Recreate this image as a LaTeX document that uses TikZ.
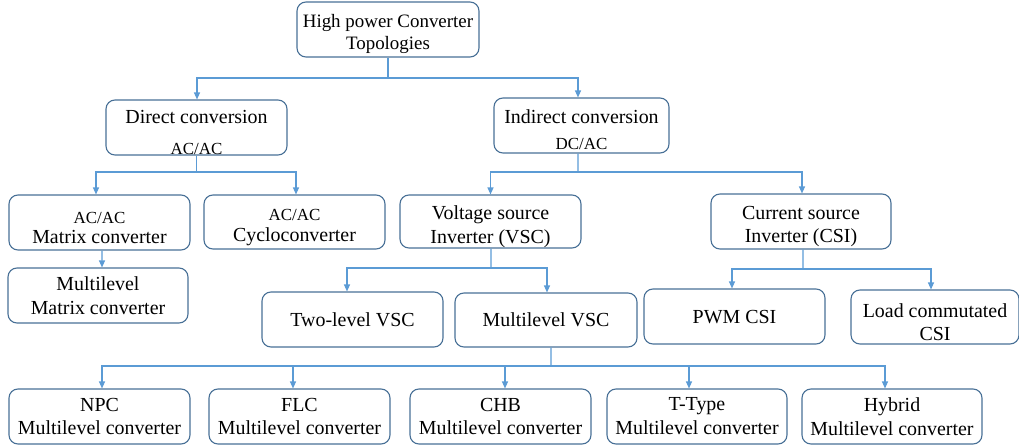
\documentclass[tikz,border=0pt]{standalone}
\usepackage{fontspec}
\setmainfont{Liberation Serif}
\newfontfamily\tnr{Liberation Serif}
\usetikzlibrary{arrows.meta}
\definecolor{boxc}{RGB}{72,112,150}
\definecolor{linec}{RGB}{91,155,213}
\tikzset{
  box/.style={draw=boxc, line width=1.1bp, rounded corners=9bp, inner sep=0pt},
  txt/.style={align=center, inner sep=0pt, text=black, font=\tnr\fontsize{20}{24}\selectfont},
  conn/.style={draw=linec, line width=1.2bp},
  arr/.style={conn, -{Triangle[width=6bp,length=7bp]}},
}
\newcommand{\smalltxt}[1]{{\tnr\fontsize{17}{20}\selectfont #1}}
% name, center, width, height, text shift down, text
\newcommand{\bx}[6]{%
  \node[box, minimum width=#3bp, minimum height=#4bp] (#1) at (#2) {};
  \node[txt] (#1-t) at ([yshift=-#5bp]#1.center) {#6};}
\begin{document}
\begin{tikzpicture}[x=1bp,y=-1bp]
\useasboundingbox (0,0) rectangle (1019,445);
% level 0
\node[box, minimum width=182bp, minimum height=55bp] (root) at (388,29.5) {};
\node[txt, font=\tnr\fontsize{19}{22}\selectfont] (root-t) at ([yshift=-4.5bp]root.center) {High power Converter\\Topologies};
% level 1
\bx{direct}{196.5,127.5}{181}{55}{5}{Direct conversion\\[7bp]\smalltxt{AC/AC}}
\bx{indirect}{581.5,125.5}{175}{55}{4.5}{Indirect conversion\\[2bp]\smalltxt{DC/AC}}
% level 2
\bx{matrix}{99.5,222.5}{181}{55}{5.5}{\smalltxt{AC/AC}\\[-3bp]Matrix converter}
\bx{cyclo}{294.5,222}{181}{54}{5.5}{\smalltxt{AC/AC}\\[-3bp]Cycloconverter}
\bx{vsc}{490.5,221.5}{181}{53}{5}{Voltage source\\Inverter (VSC)}
\bx{csi}{801,221.5}{180}{55}{5}{Current source\\Inverter (CSI)}
% level 3
\bx{mmatrix}{98,295.5}{180}{55}{0}{Multilevel\\Matrix converter}
\bx{twolevel}{352.5,319.5}{181}{55}{0}{Two-level VSC}
\bx{mvsc}{546,320}{182}{54}{0}{Multilevel VSC}
\bx{pwm}{734.5,316.5}{181}{55}{0.5}{PWM CSI}
\bx{lcc}{935,317}{168}{54}{5}{Load commutated\\[-1bp]CSI}
% level 4
\bx{npc}{99.5,416.5}{181}{55}{0}{NPC\\Multilevel converter}
\bx{flc}{299.5,416.5}{181}{55}{0}{FLC\\Multilevel converter}
\bx{chb}{500.5,416.5}{181}{55}{0}{CHB\\Multilevel converter}
\bx{ttype}{697,416.5}{180}{55}{0}{T-Type\\Multilevel converter}
\bx{hybrid}{892,416.5}{180}{55}{0}{Hybrid\\Multilevel converter}
% junctions
\coordinate (j0) at (388,78);
\coordinate (j1) at (196.5,172);
\coordinate (j2) at (578,172);
\coordinate (j3) at (491,268);
\coordinate (j4) at (803,269);
\coordinate (j5) at (551,366);
% connectors
\draw[conn] (root.south) -- (j0);
\draw[arr] (j0) -| ([xshift=0.5bp]direct.north);
\draw[arr] (j0) -| ([xshift=-3.5bp]indirect.north);

\draw[conn] (direct.south) -- (j1);
\draw[arr] (j1) -| ([xshift=-3.5bp]matrix.north);
\draw[arr] (j1) -| ([xshift=1.5bp]cyclo.north);
\draw[arr] ([xshift=2.5bp]matrix.south) -- ([xshift=4bp]mmatrix.north);

\draw[conn] ([xshift=-3.5bp]indirect.south) -- (j2);
\draw[arr] (j2) -| (vsc.north);
\draw[arr] (j2) -| ([xshift=1bp]csi.north);

\draw[conn] ([xshift=0.5bp]vsc.south) -- (j3);
\draw[arr] (j3) -| ([xshift=-5.5bp]twolevel.north);
\draw[arr] (j3) -| ([xshift=1bp]mvsc.north);

\draw[conn] ([xshift=2bp]csi.south) -- (j4);
\draw[arr] (j4) -| ([xshift=-2.5bp]pwm.north);
\draw[arr] (j4) -| ([xshift=-4bp]lcc.north);

\draw[conn] ([xshift=5bp]mvsc.south) -- (j5);
\draw[arr] (j5) -| ([xshift=2.5bp]npc.north);
\draw[arr] (j5) -| ([xshift=-6.5bp]flc.north);
\draw[arr] (j5) -| ([xshift=4.5bp]chb.north);
\draw[arr] (j5) -| ([xshift=-8bp]ttype.north);
\draw[arr] (j5) -| ([xshift=-7bp]hybrid.north);
\end{tikzpicture}
\end{document}
